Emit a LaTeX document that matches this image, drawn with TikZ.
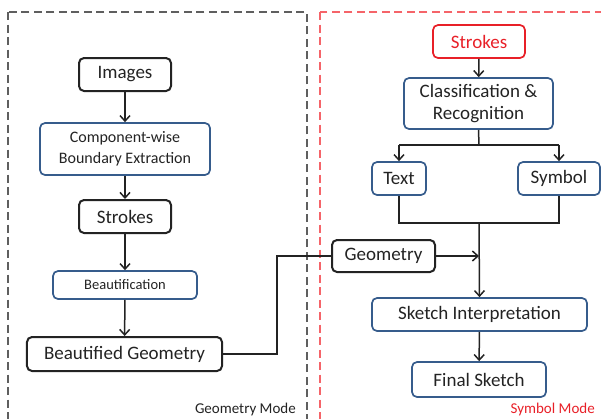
\documentclass[tikz,border=0pt]{standalone}
\usepackage{fontspec}
\setmainfont{Carlito}
\usetikzlibrary{arrows.meta}
\definecolor{ink}{RGB}{35,35,35}
\definecolor{boxblue}{RGB}{54,92,140}
\definecolor{boxred}{RGB}{232,32,40}
\definecolor{dashred}{RGB}{245,100,105}
\definecolor{dashgray}{RGB}{95,95,95}
\tikzset{
  base/.style={rounded corners=5bp, inner sep=0pt, text=ink, align=center,
    font=\fontsize{19bp}{22bp}\selectfont},
  blackbox/.style={base, draw=ink, line width=2bp},
  bluebox/.style={base, draw=boxblue, line width=1.7bp},
  redbox/.style={base, draw=boxred, line width=1.7bp, text=boxred},
  link/.style={draw=ink, line width=1.5bp},
  arr/.style={link, -{Straight Barb[length=5.5bp,width=10bp,line width=1.5bp]}},
  frame/.style={line width=1.2bp, dash pattern=on 8bp off 4.5bp},
  modelabel/.style={anchor=east, inner sep=0pt, font=\fontsize{15bp}{17bp}\selectfont}
}
\begin{document}
\begin{tikzpicture}[x=1bp, y=-1bp]
\useasboundingbox (0,0) rectangle (601,418);
% mode frames
\draw[frame, draw=dashgray] (8,12) rectangle (307,430);
\draw[frame, draw=dashred] (320,12) rectangle (612,430);
\node[modelabel, text=ink] (gmode) at (296,409) {Geometry Mode};
\node[modelabel, text=boxred] (smode) at (595,409) {Symbol Mode};

% geometry mode pipeline
\node[blackbox, minimum width=92bp, minimum height=33bp] (img) at (125,74.5) {\raisebox{-1bp}{Images}};
\node[bluebox, minimum width=170bp, minimum height=52bp,
  font=\fontsize{16bp}{21bp}\selectfont] (cbe) at (125,149) {Component-wise\\Boundary Extraction};
\node[blackbox, minimum width=92bp, minimum height=33bp] (strl) at (125,216.5) {\raisebox{-1bp}{Strokes}};
\node[bluebox, minimum width=144bp, minimum height=28bp,
  font=\fontsize{14.5bp}{17bp}\selectfont] (beau) at (125,285) {Beautification};
\node[blackbox, minimum width=195bp, minimum height=34bp] (bg) at (124.5,354) {\raisebox{-1bp}{Beautified Geometry}};

\draw[arr] (img) -- (cbe);
\draw[arr] (cbe) -- (strl);
\draw[arr] (strl) -- (beau);
\draw[arr] (beau) -- (bg);

% symbol mode pipeline
\node[redbox, minimum width=92bp, minimum height=33bp] (strr) at (479,41.5) {\raisebox{-1bp}{Strokes}};
\node[bluebox, minimum width=149bp, minimum height=51bp] (cls) at (478.5,103.5) {Classification \&\\Recognition};
\node[bluebox, minimum width=54bp, minimum height=33bp] (txt) at (399,178.5) {\raisebox{-1bp}{Text}};
\node[bluebox, minimum width=82bp, minimum height=33bp] (sym) at (559,178.5) {\raisebox{-1bp}{Symbol}};
\node[blackbox, minimum width=103bp, minimum height=32bp] (geo) at (383.5,256) {\raisebox{-1bp}{Geometry}};
\node[bluebox, minimum width=215bp, minimum height=33bp] (si) at (479.5,314.5) {\raisebox{-1bp}{Sketch Interpretation}};
\node[bluebox, minimum width=134bp, minimum height=35bp] (fs) at (479,379.5) {\raisebox{-1bp}{Final Sketch}};

\coordinate (split) at (479,145);
\coordinate (splitl) at (399,145);
\coordinate (splitr) at (559,145);
\coordinate (merge) at (479,223);
\coordinate (join) at (479,256);
\coordinate (bend) at (277,354);

\draw[arr] (strr) -- (cls);
\draw[link] (cls.south) -- (split);
\draw[link] (splitl) -- (splitr);
\draw[arr] (splitl) -- (txt.north);
\draw[arr] (splitr) -- (sym.north);
\draw[link] (txt.south) |- (merge) -| (sym.south);
\draw[arr] (merge) -- (si.north);
\draw[arr] (geo.east) -- (join);
\draw[arr] (si) -- (fs);

% hand-over from geometry mode
\draw[link] (bg.east) -- (bend) |- (geo.west);
\end{tikzpicture}
\end{document}
